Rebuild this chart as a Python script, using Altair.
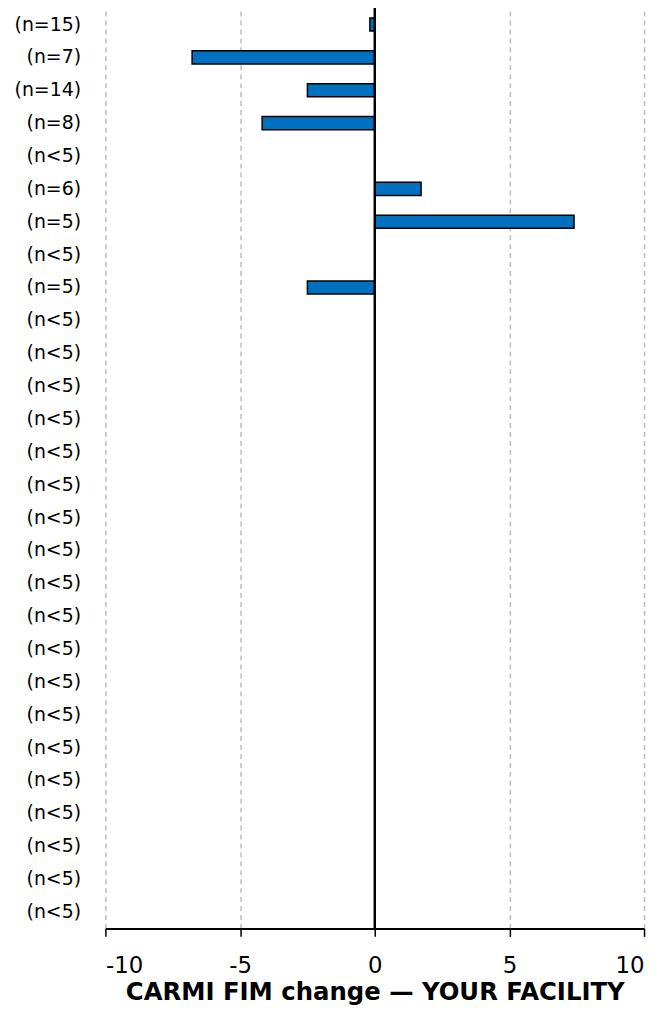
import altair as alt
import pandas as pd

labels = ["(n=15)", "(n=7)", "(n=14)", "(n=8)", "(n<5)", "(n=6)", "(n=5)", "(n<5)", "(n=5)"] + ["(n<5)"] * 19
values = [-0.18, -6.78, -2.5, -4.18, None, 1.72, 7.4, None, -2.5] + [None] * 19
x_ticks = [-10, -5, 0, 5, 10]

df = pd.DataFrame({"idx": list(range(len(labels))), "label": labels, "value": values})
bars_df = df.dropna(subset=["value"])

label_js = "[" + ",".join('"%s"' % l for l in labels) + "]"
FONT = "DejaVu Sans"

yscale = alt.Scale(domain=list(range(len(labels))), paddingInner=0.6, paddingOuter=0.3)
xscale = alt.Scale(domain=[-10, 10], nice=False)

bars = alt.Chart(bars_df).mark_bar(color="#0070c0", stroke="black", strokeWidth=1.5).encode(
    x=alt.X("value:Q", scale=xscale,
            axis=alt.Axis(values=x_ticks, title="CARMI FIM change — YOUR FACILITY",
                          labelExpr="datum.value",
                          grid=True, gridDash=[5, 4], gridColor="#bdbdbd", gridWidth=1.5,
                          domainColor="black", domainWidth=2, tickColor="black", tickWidth=1.5,
                          tickSize=8, labelFontSize=23, labelColor="black", labelFont=FONT,
                          labelPadding=18, titleFont=FONT, titleFontSize=24.5, titleFontWeight="bold",
                          titleColor="black", titlePadding=4)),
    x2=alt.datum(0),
    y=alt.Y("idx:O", scale=yscale, sort=None,
            axis=alt.Axis(title=None, ticks=False, domain=False, labelExpr=label_js + "[datum.value]",
                          labelFontSize=19, labelColor="black", labelFont=FONT, labelPadding=25)),
)

allrows = alt.Chart(df).mark_point(opacity=0).encode(
    y=alt.Y("idx:O", scale=yscale, sort=None),
)

zero = alt.Chart(df).mark_rule(color="black", strokeWidth=1.5).encode(x=alt.datum(0))

chart = alt.layer(allrows, bars, zero).properties(
    width=542, height=926,
    autosize=alt.AutoSizeParams(type="none"),
    padding={"left": 98, "top": -3, "right": 10, "bottom": 80},
).configure_view(stroke=None)

chart.save("out.html", embed_options={"renderer": "svg", "actions": False})
